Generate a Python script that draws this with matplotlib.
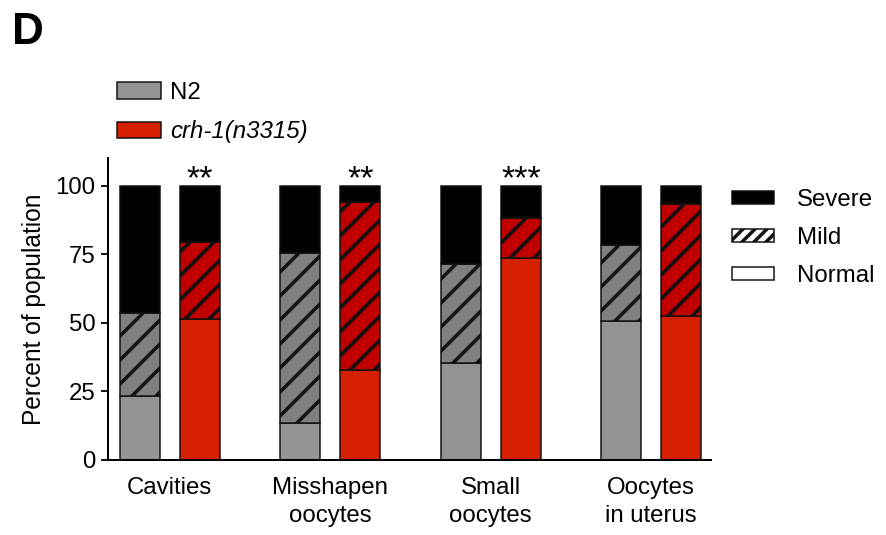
import numpy as np
import matplotlib.pyplot as plt
from matplotlib.patches import Patch

plt.rcParams['font.family'] = ['Liberation Sans', 'DejaVu Sans']
plt.rcParams['hatch.linewidth'] = 3.5

# phenotype scores, percent of animals per class
categories = ['Cavities', 'Misshapen\noocytes', 'Small\noocytes', 'Oocytes\nin uterus']
n2_normal = [23.2, 13.4, 35.3, 50.7]
n2_mild = [30.2, 62.1, 36.0, 27.6]
n2_severe = [46.6, 24.5, 28.7, 21.7]
crh_normal = [51.2, 32.6, 73.5, 52.5]
crh_mild = [28.3, 61.6, 14.8, 40.9]
crh_severe = [20.5, 5.8, 11.7, 6.6]
stars = ['**', '**', '***', '']

grey, grey_mild = '#939393', '#808080'
red, red_mild = '#d42000', '#c00000'
fs = 24

fig = plt.figure(figsize=(886 / 72, 535 / 72), dpi=72)
ax = fig.add_axes([0.1222, 0.1411, 0.803 - 0.1222, 0.7041 - 0.1411])

x = np.arange(len(categories)) * 4.0
xn2 = x
xcrh = x + 1.5
w = 1.0
ec = '#111111'
lw = 1.5

def stack(xpos, normal, mild, severe, c, cm):
    normal = np.array(normal)
    mild = np.array(mild)
    severe = np.array(severe)
    ax.bar(xpos, normal, w, color=c, edgecolor=ec, linewidth=lw)
    ax.bar(xpos, mild, w, bottom=normal, color=cm, edgecolor=ec, linewidth=lw, hatch='/')
    ax.bar(xpos, severe, w, bottom=normal + mild, color='black', edgecolor=ec, linewidth=lw)

stack(xn2, n2_normal, n2_mild, n2_severe, grey, grey_mild)
stack(xcrh, crh_normal, crh_mild, crh_severe, red, red_mild)

tops = np.array(crh_normal) + np.array(crh_mild) + np.array(crh_severe)
for xi, t, s in zip(xcrh, tops, stars):
    if s:
        ax.text(xi, t - 3.5, s, ha='center', va='bottom', fontsize=34)

ax.set_xlim(-0.78, 14.25)
ax.set_ylim(0, 110)
ax.set_yticks([0, 25, 50, 75, 100])
ax.set_xticks((xn2 + xcrh) / 2)
ax.set_xticklabels(categories, linespacing=1.4)
ax.tick_params(axis='x', length=0, pad=17, labelsize=fs)
ax.tick_params(axis='y', length=7, width=1.8, labelsize=fs, pad=6)
ax.set_ylabel('Percent of population', fontsize=24.5, labelpad=9)
for side in ['top', 'right']:
    ax.spines[side].set_visible(False)
for side in ['left', 'bottom']:
    ax.spines[side].set_linewidth(2)

# strain legend above the plot
strain_handles = [Patch(facecolor=grey, edgecolor=ec, linewidth=1.5, label='N2'),
                  Patch(facecolor=red, edgecolor=ec, linewidth=1.5, label='crh-1(n3315)')]
leg1 = fig.legend(handles=strain_handles, loc='upper left', bbox_to_anchor=(0.1317, 0.847),
                  frameon=False, fontsize=fs, handlelength=1.85, handleheight=0.67,
                  labelspacing=0.68, handletextpad=0.37, borderpad=0, borderaxespad=0)
leg1.get_texts()[1].set_style('italic')

# severity legend on the right
sev_handles = [Patch(facecolor='black', edgecolor=ec, linewidth=1.5, label='Severe'),
               Patch(facecolor='white', edgecolor=ec, linewidth=1.5, hatch='//', label='Mild'),
               Patch(facecolor='white', edgecolor=ec, linewidth=1.5, label='Normal')]
fig.legend(handles=sev_handles, loc='upper left', bbox_to_anchor=(0.826, 0.647),
           frameon=False, fontsize=fs, handlelength=1.75, handleheight=0.45,
           labelspacing=0.68, handletextpad=0.96, borderpad=0, borderaxespad=0)

fig.text(0.013, 1 - 44 / 535, 'D', fontsize=44, fontweight='bold', va='baseline')

fig.savefig('out.png', dpi=72)
